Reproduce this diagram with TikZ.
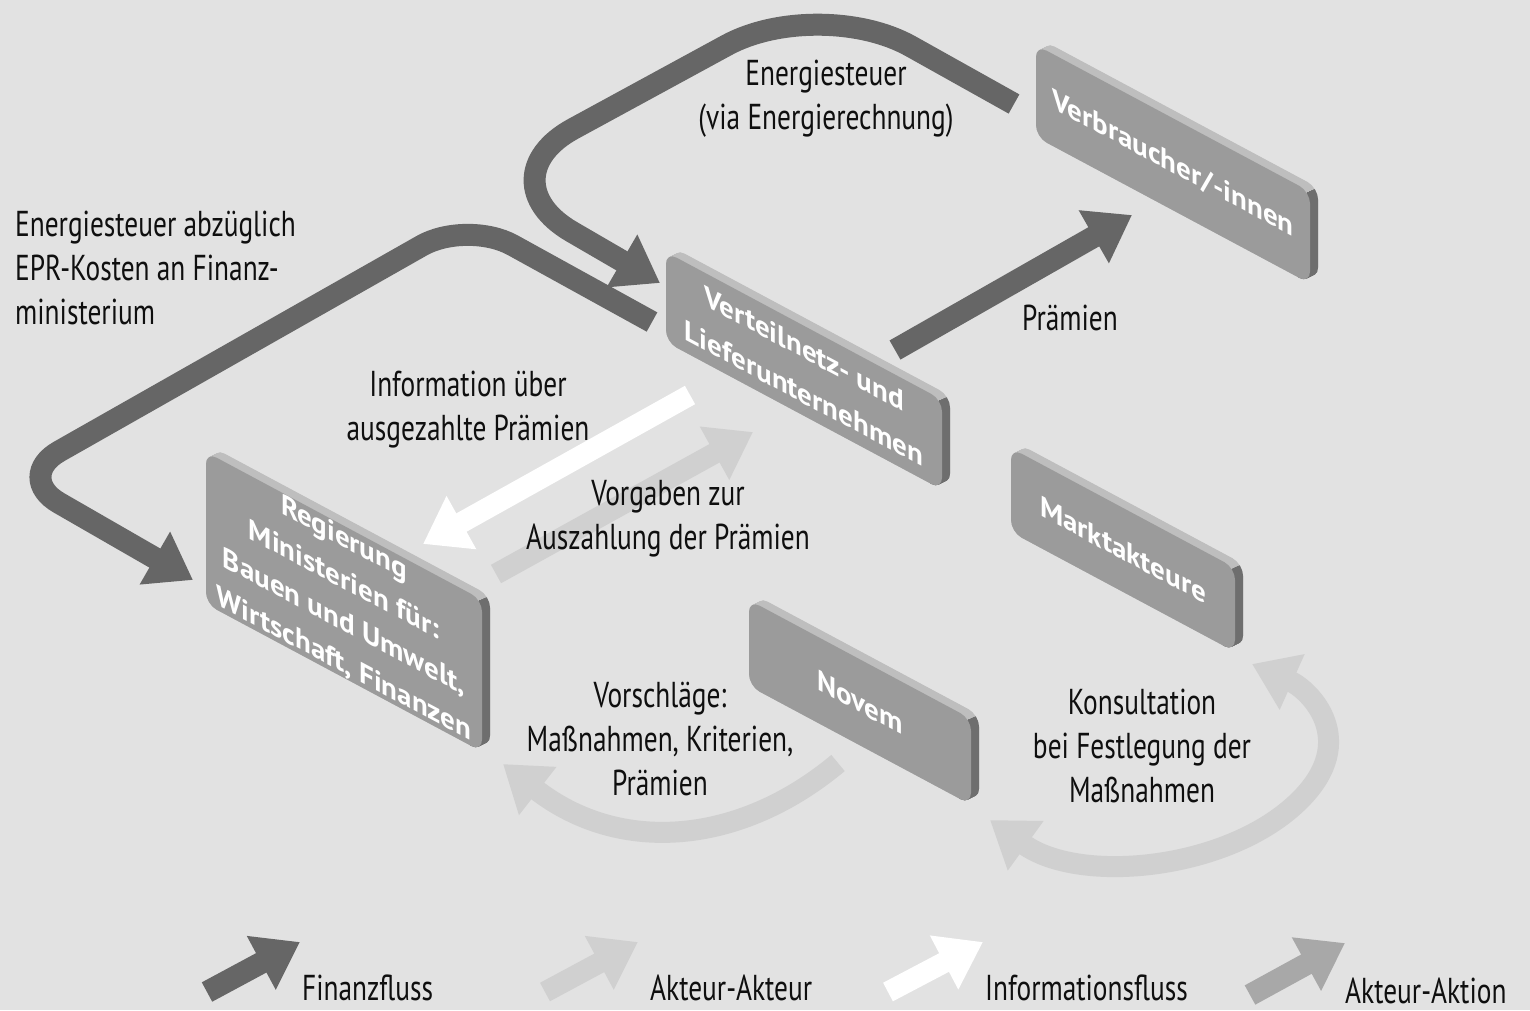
\documentclass[tikz,border=0pt]{standalone}
\usepackage{fontspec}
\setmainfont{PT Sans}[FakeStretch=0.76]
\newfontfamily\boxfont{PT Sans}
\usetikzlibrary{arrows.meta}
\definecolor{bgc}{RGB}{226,226,226}
\definecolor{facec}{RGB}{155,155,155}
\definecolor{topc}{RGB}{190,190,190}
\definecolor{sidec}{RGB}{110,110,110}
\definecolor{finc}{RGB}{102,102,102}
\definecolor{aac}{RGB}{208,208,208}
\definecolor{actc}{RGB}{168,168,168}
\definecolor{txtc}{RGB}{15,15,15}
\tikzset{
  headtip/.style={-{Triangle[length=44pt,width=58pt]}},
  fin/.style={line width=22pt, draw=finc, headtip},
  infoarr/.style={line width=21pt, draw=white, headtip},
  aaarr/.style={line width=21pt, draw=aac, headtip},
  aaarrtwo/.style={line width=21pt, draw=aac, {Triangle[length=44pt,width=58pt]}-{Triangle[length=44pt,width=58pt]}},
  actarr/.style={line width=22pt, draw=actc, headtip},
  lbl/.style={text=txtc, font=\fontsize{36}{44}\selectfont, align=center, inner sep=0pt},
  legtext/.style={text=txtc, font=\fontsize{36}{44}\selectfont, inner sep=0pt, anchor=base west},
  boxtext/.style={text=white, font=\boxfont\bfseries\fontsize{29}{34}\selectfont, align=center, inner sep=0pt, transform shape},
}
% name, x, y (image px), width, height, text
\newcommand{\isobox}[6]{%
  \begin{scope}[shift={(#2,-#3)}, yslant=-0.535]
    \foreach \t in {0,0.5,...,8} {
      \fill[topc, rounded corners=12pt] (\t,1.035*\t) rectangle ++(#4,-#5);
    }
    \begin{scope}
      \clip (#4-12,-#5-30) -- (#4-12,-12) -- (#4,0) -- (#4+8,8.28) -- (#4+40,8.28) -- (#4+40,-#5-30) -- cycle;
      \foreach \t in {0,0.5,...,8} {
        \fill[sidec, rounded corners=12pt] (\t,1.035*\t) rectangle ++(#4,-#5);
      }
    \end{scope}
    \fill[facec, rounded corners=12pt] (0,0) rectangle ++(#4,-#5);
    \node[boxtext] (#1) at (#4/2,-#5/2) {#6};
  \end{scope}}
\begin{document}
\begin{tikzpicture}[x=1pt,y=1pt]
\useasboundingbox (0,0) rectangle (1530,-1010);
\fill[bgc] (0,0) rectangle (1530,-1010);

% ---- connector coordinates
\coordinate (a1s) at (1014,-104);
\coordinate (a1c1) at (819,5);
\coordinate (a1c2) at (481,-179);
\coordinate (a1e) at (660,-283);
\coordinate (a2s) at (652,-322);
\coordinate (a2c1) at (467,-220);
\coordinate (a2c2) at (14,-477);
\coordinate (a2e) at (193,-580);
\coordinate (pr1) at (895,-350);
\coordinate (pr2) at (1132,-215);
\coordinate (in1) at (690,-395);
\coordinate (in2) at (423,-544);
\coordinate (vo1) at (496,-574);
\coordinate (vo2) at (753,-432);
\coordinate (no1) at (838,-763);
\coordinate (no2) at (503,-764);
\coordinate (ko1) at (990,-820);
\coordinate (ko2) at (1300,-800);
\coordinate (ko3) at (1252,-664);

% ---- arrows
\draw[fin, rounded corners=105pt] (a1s) -- (a1c1) -- (a1c2) -- (a1e);
\draw[fin, rounded corners=52pt] (a2s) -- (a2c1) -- (a2c2) -- (a2e);
\draw[fin] (pr1) -- (pr2);
\draw[infoarr] (in1) -- (in2);
\draw[aaarr] (vo1) -- (vo2);
\draw[aaarr] (no1) .. controls (740,-845) and (620,-855) .. (no2);
\draw[aaarrtwo] (ko1) .. controls (1080,-885) and (1230,-870) .. (ko2) .. controls (1360,-740) and (1310,-690) .. (ko3);

% ---- boxes
\isobox{verb}{1036}{45}{274}{92}{Verbraucher/-innen}
\isobox{vert}{666}{252}{276}{90}{Verteilnetz- und\\[11pt]Lieferunternehmen}
\isobox{reg}{206}{452}{276}{152}{Regierung\\[8pt]Ministerien für:\\[8pt]Bauen und Umwelt,\\[8pt]Wirtschaft, Finanzen}
\isobox{novem}{749}{600}{222}{86}{Novem}
\isobox{markt}{1011}{448}{224}{84}{Marktakteure}

% ---- labels
\node[lbl] (l1) at (826,-99) {Energiesteuer\\(via Energierechnung)};
\node[lbl, align=left, anchor=west] (l2) at (15,-268) {Energiesteuer abzüglich\\EPR-Kosten an Finanz-\\ministerium};
\node[lbl] (l3) at (1070,-318) {Prämien};
\node[lbl] (l4) at (468,-410) {Information über\\ausgezahlte Prämien};
\node[lbl] (l5) at (668,-519) {Vorgaben zur\\Auszahlung der Prämien};
\node[lbl] (l6) at (660,-739) {Vorschläge:\\Maßnahmen, Kriterien,\\Prämien};
\node[lbl] (l7) at (1142,-746) {Konsultation\\bei Festlegung der\\Maßnahmen};

% ---- legend
\coordinate (lg1a) at (207,-992);
\coordinate (lg1b) at (300,-942);
\coordinate (lg2a) at (545,-992);
\coordinate (lg2b) at (638,-942);
\coordinate (lg3a) at (888,-992);
\coordinate (lg3b) at (983,-942);
\coordinate (lg4a) at (1250,-995);
\coordinate (lg4b) at (1345,-943);
\draw[fin] (lg1a) -- (lg1b);
\draw[aaarr] (lg2a) -- (lg2b);
\draw[infoarr] (lg3a) -- (lg3b);
\draw[actarr] (lg4a) -- (lg4b);
\node[legtext] (t1) at (302,-1000) {Finanzfluss};
\node[legtext] (t2) at (650,-1000) {Akteur-Akteur};
\node[legtext] (t3) at (985,-1000) {Informationsfluss};
\node[legtext] (t4) at (1345,-1003) {Akteur-Aktion};
\end{tikzpicture}
\end{document}
